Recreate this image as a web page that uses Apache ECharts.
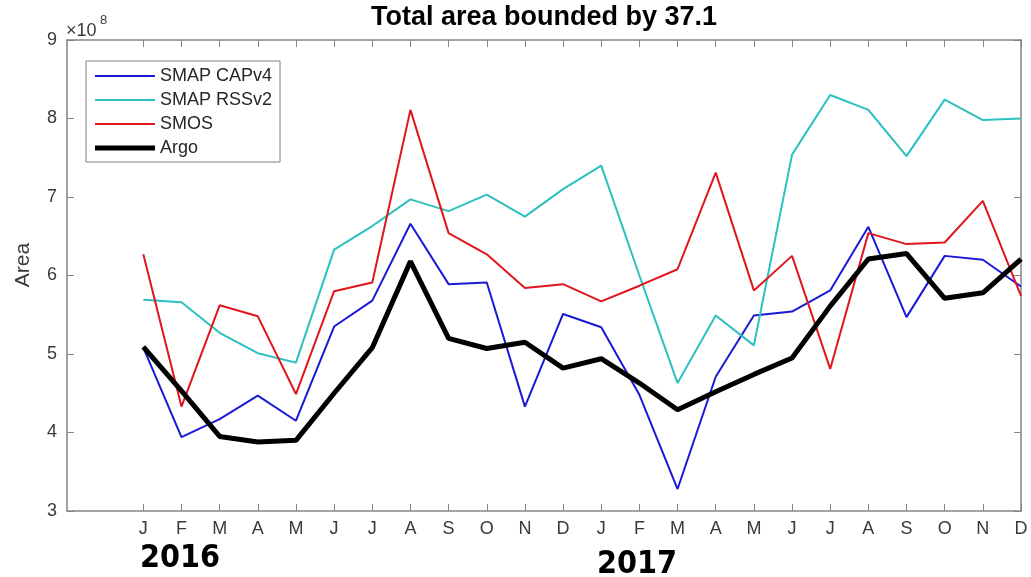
<!DOCTYPE html>
<html>
<head>
<meta charset="utf-8">
<script src="https://cdn.jsdelivr.net/npm/echarts@6/dist/echarts.min.js"></script>
<style>
  html, body { margin: 0; padding: 0; background: #fff; }
  #chart { width: 1031px; height: 577px; }
</style>
</head>
<body>
<div id="chart"></div>
<script>
// Month tick labels (Jan 2016 .. Dec 2017)
const months = ['J','F','M','A','M','J','J','A','S','O','N','D','J','F','M','A','M','J','J','A','S','O','N','D'];
const yTicks = [3, 4, 5, 6, 7, 8, 9];
// Values in units of 1e8
const smapCAPv4 = [5.08,3.94,4.17,4.47,4.15,5.35,5.68,6.66,5.89,5.91,4.33,5.51,5.34,4.48,3.28,4.71,5.49,5.54,5.81,6.62,5.47,6.25,6.20,5.86];
const smapRSSv2 = [5.69,5.66,5.27,5.01,4.89,6.33,6.63,6.97,6.82,7.03,6.75,7.10,7.40,6.00,4.63,5.49,5.11,7.54,8.30,8.11,7.52,8.24,7.98,8.00];
const smos      = [6.27,4.33,5.62,5.48,4.49,5.80,5.91,8.11,6.54,6.27,5.84,5.89,5.67,5.87,6.08,7.31,5.81,6.25,4.81,6.54,6.40,6.42,6.95,5.74];
const argo      = [5.09,4.53,3.95,3.88,3.90,4.50,5.08,6.18,5.20,5.07,5.15,4.82,4.94,4.63,4.29,4.52,4.74,4.95,5.61,6.21,6.28,5.71,5.78,6.21];

const tickPositions = months.map((m, i) => i + 1);
const toPairs = arr => arr.map((v, i) => [i + 1, v]);

const FONT = "'Liberation Sans', Arial, Helvetica, sans-serif";
const AXIS_COLOR = '#858585';
const LABEL_COLOR = '#3a3a3a';
const THIN_ICON = 'path://M0,0M0,4L60,4L60,6L0,6ZM60,10';
const THICK_ICON = 'path://M0,0M0,2.5L60,2.5L60,7.5L0,7.5ZM60,10';

const chart = echarts.init(document.getElementById('chart'), null, { renderer: 'canvas' });

const xBase = {
  type: 'value', min: -1, max: 24, interval: 1,
  splitLine: { show: false },
  axisLine: { show: true, onZero: false, lineStyle: { color: AXIS_COLOR, width: 1.5 } },
  axisTick: { show: true, inside: true, length: 7, customValues: tickPositions, lineStyle: { color: AXIS_COLOR } }
};
const yBase = {
  type: 'value', min: 3, max: 9, interval: 1,
  splitLine: { show: false },
  axisLine: { show: true, onZero: false, lineStyle: { color: AXIS_COLOR, width: 1.5 } },
  axisTick: { show: true, inside: true, length: 7, lineStyle: { color: AXIS_COLOR } }
};

const option = {
  backgroundColor: '#fff',
  animation: false,
  grid: { left: 67, right: 10, top: 40, bottom: 66, containLabel: false },
  xAxis: [
    Object.assign({}, xBase, {
      position: 'bottom',
      axisLabel: {
        show: true, customValues: tickPositions, margin: 9,
        formatter: v => months[v - 1] || '',
        color: LABEL_COLOR, fontSize: 18, fontFamily: FONT
      }
    }),
    Object.assign({}, xBase, { position: 'top', axisLabel: { show: false } })
  ],
  yAxis: [
    Object.assign({}, yBase, {
      position: 'left',
      axisLabel: {
        show: true, margin: 10,
        formatter: v => (yTicks.indexOf(v) >= 0 ? String(v) : ''),
        color: LABEL_COLOR, fontSize: 18, fontFamily: FONT
      }
    }),
    Object.assign({}, yBase, { position: 'right', axisLabel: { show: false } })
  ],
  legend: {
    orient: 'vertical', left: 86, top: 61,
    itemWidth: 60, itemHeight: 10, itemGap: 6,
    padding: [6, 8, 5, 9],
    borderColor: '#7f7f7f', borderWidth: 1, backgroundColor: '#fff',
    textStyle: { fontSize: 18, color: '#262626', fontFamily: FONT },
    data: [
      { name: 'SMAP CAPv4', icon: THIN_ICON },
      { name: 'SMAP RSSv2', icon: THIN_ICON },
      { name: 'SMOS', icon: THIN_ICON },
      { name: 'Argo', icon: THICK_ICON }
    ]
  },
  graphic: [
    { type: 'text', x: 544, y: 4, style: { text: 'Total area bounded by 37.1', font: "bold 27px 'Liberation Sans', Arial, sans-serif", fill: '#000', textAlign: 'center', textVerticalAlign: 'top' } },
    { type: 'text', x: 66, y: 22, style: { text: '×10', font: "18px 'Liberation Sans', Arial, sans-serif", fill: LABEL_COLOR, textAlign: 'left', textVerticalAlign: 'top' } },
    { type: 'text', x: 100, y: 14, style: { text: '8', font: "13px 'Liberation Sans', Arial, sans-serif", fill: LABEL_COLOR, textAlign: 'left', textVerticalAlign: 'top' } },
    { type: 'text', x: 23, y: 265, rotation: Math.PI / 2, style: { text: 'Area', font: "21px 'Liberation Sans', Arial, sans-serif", fill: LABEL_COLOR, textAlign: 'center', textVerticalAlign: 'middle' } },
    { type: 'text', x: 140, y: 559, style: { text: '2016', font: "bold 32px 'Liberation Sans Narrow', 'DejaVu Sans Condensed', sans-serif", fill: '#000', textAlign: 'left', textVerticalAlign: 'middle' } },
    { type: 'text', x: 597, y: 565, style: { text: '2017', font: "bold 32px 'Liberation Sans Narrow', 'DejaVu Sans Condensed', sans-serif", fill: '#000', textAlign: 'left', textVerticalAlign: 'middle' } }
  ],
  series: [
    { name: 'SMAP CAPv4', type: 'line', data: toPairs(smapCAPv4), symbol: 'none', lineStyle: { color: '#1a1ad6', width: 2 }, itemStyle: { color: '#1a1ad6' } },
    { name: 'SMAP RSSv2', type: 'line', data: toPairs(smapRSSv2), symbol: 'none', lineStyle: { color: '#2cc0c0', width: 2 }, itemStyle: { color: '#2cc0c0' } },
    { name: 'SMOS', type: 'line', data: toPairs(smos), symbol: 'none', lineStyle: { color: '#e0161c', width: 2 }, itemStyle: { color: '#e0161c' } },
    { name: 'Argo', type: 'line', data: toPairs(argo), symbol: 'none', lineStyle: { color: '#000', width: 5 }, itemStyle: { color: '#000' } }
  ]
};
chart.setOption(option);
</script>
</body>
</html>
